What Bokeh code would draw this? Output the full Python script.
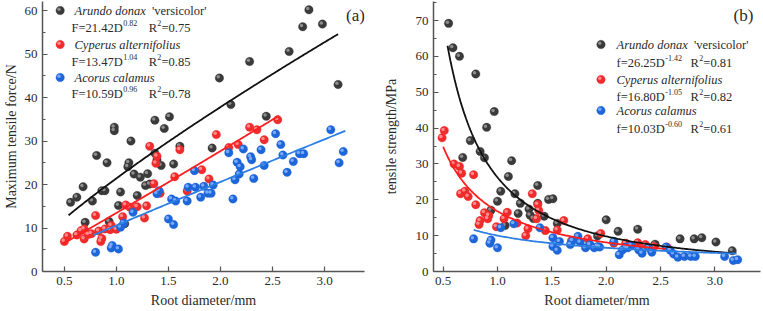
import numpy as np
from bokeh.plotting import figure
from bokeh.layouts import row
from bokeh.models import Label, Range1d, SingleIntervalTicker, NumeralTickFormatter
from bokeh.embed import file_html
from bokeh.resources import INLINE

SERIF = "Liberation Serif"

# ---------------- data ----------------
species = ["Arundo donax", "Cyperus alternifolius", "Acorus calamus"]
cultivar = ["'versicolor'", "", ""]

# (a) maximum tensile force (N) vs root diameter (mm)
force_arundo_d = [0.56, 0.62, 0.68, 0.70, 0.77, 0.81, 0.86, 0.89, 0.91, 0.93, 0.98, 0.98, 1.02, 1.04,
                  1.08, 1.11, 1.12, 1.14, 1.17, 1.20, 1.23, 1.28, 1.30, 1.32, 1.37, 1.37, 1.39, 1.43,
                  1.46, 1.51, 1.55, 1.61, 1.92, 1.99, 2.10, 2.28, 2.44, 2.66, 2.79, 2.85, 2.98, 3.13]
force_arundo_f = [15.9, 17.1, 19.5, 11.3, 16.2, 26.7, 18.6, 18.6, 25.0, 11.5, 33.2, 32.4, 15.2, 18.3,
                  11.0, 24.1, 25.0, 30.0, 22.4, 17.5, 21.7, 19.8, 22.5, 20.1, 34.8, 27.2, 25.7, 24.4,
                  32.9, 35.6, 24.7, 28.8, 28.4, 44.5, 38.4, 48.3, 35.7, 50.6, 56.3, 60.2, 56.9, 43.0]

force_cyperus_d = [0.50, 0.53, 0.62, 0.66, 0.69, 0.69, 0.73, 0.76, 0.80, 0.83, 0.85, 0.86, 0.89, 0.94,
                   0.95, 1.00, 1.06, 1.09, 1.13, 1.20, 1.27, 1.29, 1.32, 1.36, 1.38, 1.39, 1.42, 1.56,
                   1.61, 1.68, 1.82, 1.89, 1.96, 2.08, 2.17, 2.28, 2.35, 2.42, 2.55]
force_cyperus_f = [6.9, 8.1, 8.4, 9.4, 9.8, 7.5, 8.5, 8.7, 12.9, 9.3, 6.9, 7.6, 9.8, 9.6,
                   10.6, 9.7, 12.6, 15.3, 14.8, 14.9, 12.3, 15.1, 28.8, 20.2, 24.9, 26.5, 18.0, 21.8,
                   28.0, 18.5, 23.4, 21.3, 31.5, 28.5, 29.2, 33.2, 32.6, 30.3, 34.9]

force_acorus_d = [0.80, 0.95, 0.96, 1.02, 1.04, 1.07, 1.16, 1.39, 1.41, 1.50, 1.53, 1.55, 1.57, 1.68,
                  1.69, 1.75, 1.76, 1.81, 1.84, 1.88, 1.91, 1.93, 2.08, 2.12, 2.14, 2.16, 2.18, 2.19,
                  2.22, 2.29, 2.30, 2.32, 2.39, 2.42, 2.53, 2.58, 2.60, 2.64, 2.70, 2.76, 2.80, 3.06,
                  3.14, 3.18]
force_acorus_f = [4.4, 5.4, 6.0, 5.2, 10.2, 11.1, 13.6, 17.9, 18.6, 12.1, 16.7, 10.8, 16.2, 16.2,
                  19.4, 23.2, 19.4, 17.1, 19.6, 18.0, 18.0, 19.9, 27.3, 16.7, 21.1, 25.1, 22.4, 24.1,
                  28.2, 26.4, 25.7, 21.4, 28.0, 24.4, 31.7, 29.2, 26.8, 22.8, 25.3, 27.1, 27.1, 32.6,
                  25.0, 27.6]

# (b) tensile strength (MPa) vs root diameter (mm)
strength_arundo_d = [0.55, 0.59, 0.65, 0.80, 0.97, 0.90, 0.75, 0.84, 0.68, 0.88, 1.13, 1.10, 1.03,
                     1.00, 0.94, 1.07, 1.16, 1.19, 1.21, 1.29, 1.30, 1.33, 1.37, 1.37, 1.43, 1.47,
                     1.51, 1.55, 1.92, 2.00, 2.11, 2.29, 2.45, 2.68, 2.81, 2.88, 3.01, 3.16]
strength_arundo_f = [69.2, 62.4, 60.0, 55.1, 44.6, 40.2, 36.5, 33.5, 31.8, 31.7, 30.9, 26.5, 22.4,
                     19.6, 17.1, 12.8, 21.7, 16.2, 19.0, 17.4, 15.7, 14.8, 24.0, 19.0, 15.4, 20.1,
                     20.3, 13.4, 9.9, 14.4, 11.2, 11.8, 7.6, 9.1, 9.1, 9.4, 8.2, 5.8]

strength_cyperus_d = [0.49, 0.51, 0.60, 0.65, 0.67, 0.78, 0.66, 0.70, 0.73, 0.80, 0.88, 0.84, 0.83,
                      0.92, 0.91, 0.99, 1.06, 1.09, 1.18, 1.26, 1.28, 1.32, 1.36, 1.37, 1.38, 1.44,
                      1.55, 1.61, 1.68, 1.83, 1.95, 2.07, 2.18, 2.29, 2.36, 2.44, 2.56]
strength_cyperus_f = [37.3, 39.3, 30.0, 29.3, 27.4, 27.0, 21.7, 22.4, 20.9, 18.6, 16.4, 14.2, 13.1,
                      15.6, 14.7, 12.5, 14.7, 16.5, 13.5, 10.0, 11.9, 21.7, 14.7, 18.7, 17.0, 11.4,
                      11.6, 14.2, 8.6, 9.1, 10.6, 7.9, 7.9, 8.0, 7.5, 7.0, 6.8]

strength_acorus_d = [0.78, 0.93, 0.94, 1.00, 1.03, 1.15, 1.39, 1.51, 1.51, 1.55, 1.57, 1.67, 1.69,
                     1.74, 1.76, 1.81, 1.85, 1.89, 1.92, 1.94, 2.07, 2.12, 2.15, 2.18, 2.20, 2.23,
                     2.30, 2.33, 2.39, 2.42, 2.55, 2.59, 2.62, 2.66, 2.72, 2.78, 2.82, 3.09, 3.17, 3.21]
strength_acorus_f = [9.1, 7.9, 8.8, 6.6, 12.2, 13.3, 12.2, 9.4, 7.0, 5.9, 8.4, 7.5, 8.6,
                     9.8, 8.2, 6.6, 7.5, 6.6, 7.0, 6.8, 8.4, 4.7, 6.0, 6.8, 6.6, 7.2,
                     6.0, 5.1, 6.6, 5.4, 6.8, 5.9, 4.9, 4.0, 4.2, 4.2, 4.2, 4.2, 3.1, 3.3]

# power-law fits  y = a * D^b
force_coef = [21.42, 13.47, 10.59]
force_exp = [0.82, 1.04, 0.96]
force_r2 = [0.75, 0.85, 0.78]
force_fit_span = [(0.54, 3.13), (0.49, 2.56), (0.78, 3.20)]

strength_coef = [26.25, 16.80, 10.03]
strength_exp = [-1.42, -1.05, -0.60]
strength_r2 = [0.81, 0.82, 0.61]
strength_fit_span = [(0.54, 3.16), (0.50, 2.55), (0.78, 3.20)]

# ---------------- styling ----------------
ball_colors = ["#3a3a3a", "#ef2b2b", "#1d66da"]
shine_colors = ["#9c9c9c", "#ff9c9c", "#8ab6ff"]
fit_colors = ["#111111", "#ff1e1e", "#2e7fe4"]
AXIS_COLOR = "#555555"
TEXT_COLOR = "#2a2a2a"
FRAME_W, FRAME_H = 328, 270

# Times-metric advance widths (per em) for placing legend pieces side by side
REG_W = {" ": 0.25, "'": 0.18, ".": 0.25, "-": 0.333, "=": 0.564, "D": 0.722, "F": 0.556,
         "R": 0.667, "f": 0.333}
ITAL_W = {" ": 0.25, "A": 0.611, "C": 0.667, "a": 0.5, "c": 0.444, "d": 0.5, "e": 0.444,
          "f": 0.278, "i": 0.278, "l": 0.278, "m": 0.722, "n": 0.5, "o": 0.5, "p": 0.5,
          "r": 0.389, "s": 0.389, "t": 0.278, "u": 0.5, "x": 0.444, "y": 0.444}


def text_width(s, size, table):
    return sum(table.get(ch, 0.5) for ch in s) * size


def make_panel(width, border_left, border_right, xr, yr, ylabel, ylabel_standoff):
    p = figure(width=width, height=311, x_range=Range1d(*xr), y_range=Range1d(*yr),
               output_backend="svg", toolbar_location=None,
               min_border_left=border_left, min_border_right=border_right,
               min_border_top=1, min_border_bottom=40)
    p.outline_line_color = None
    p.grid.grid_line_color = None
    p.xaxis.ticker = SingleIntervalTicker(interval=0.5, num_minor_ticks=0)
    p.yaxis.ticker = SingleIntervalTicker(interval=10, num_minor_ticks=2)
    p.xaxis.formatter = NumeralTickFormatter(format="0.0")
    p.xaxis.axis_label = "Root diameter/mm"
    p.yaxis.axis_label = ylabel
    for ax in (p.xaxis, p.yaxis):
        ax.axis_line_color = AXIS_COLOR
        ax.axis_line_width = 1.5
        ax.major_tick_line_color = AXIS_COLOR
        ax.minor_tick_line_color = AXIS_COLOR
        ax.major_tick_line_width = 1.2
        ax.minor_tick_line_width = 1.0
        ax.major_tick_in = 5
        ax.major_tick_out = 0
        ax.minor_tick_in = 3
        ax.minor_tick_out = 0
        ax.major_label_text_font = SERIF
        ax.major_label_text_font_size = "13px"
        ax.major_label_text_color = TEXT_COLOR
        ax.major_label_standoff = 5
        ax.axis_label_text_font = SERIF
        ax.axis_label_text_font_size = "14px"
        ax.axis_label_text_font_style = "normal"
        ax.axis_label_text_color = TEXT_COLOR
    p.xaxis.axis_label_standoff = 5
    p.yaxis.axis_label_standoff = ylabel_standoff
    return p


def draw_balls(p, xs, ys, i, xr, yr):
    # shaded sphere look: a body plus a small light spot toward the upper left
    px_x = FRAME_W / (xr[1] - xr[0])
    px_y = FRAME_H / (yr[1] - yr[0])
    xs = np.asarray(xs)
    ys = np.asarray(ys)
    p.scatter(xs, ys, size=8.5, fill_color=ball_colors[i], line_color=ball_colors[i],
              line_alpha=0.6, line_width=0.5)
    p.scatter(xs - 1.2 / px_x, ys + 1.2 / px_y, size=3.5, fill_color=shine_colors[i],
              line_color=None, fill_alpha=0.85)


def draw_fit(p, a, b, span, i):
    d = np.linspace(span[0], span[1], 200)
    p.line(d, a * d ** b, line_color=fit_colors[i], line_width=1.8)


def add_text(p, xr, yr, dx, dy, s, size, style="normal", align="left", color=TEXT_COLOR):
    p.add_layout(Label(x=xr[0], y=yr[1], x_offset=dx, y_offset=-dy, text=s,
                       text_font=SERIF, text_font_size=f"{size}px", text_font_style=style,
                       text_color=color, text_align=align, text_baseline="middle"))


def add_legend(p, xr, yr, mx, tx, rows, sym, coefs, exps, r2s, fx, r_gap):
    px_x = FRAME_W / (xr[1] - xr[0])
    px_y = FRAME_H / (yr[1] - yr[0])
    size, sup = 12.5, 8
    for i, (my, fy) in enumerate(rows):
        draw_balls(p, [xr[0] + mx / px_x], [yr[1] - my / px_y], i, xr, yr)
        add_text(p, xr, yr, tx, my, species[i], size, style="italic")
        if cultivar[i]:
            w = text_width(species[i] + "  ", size, ITAL_W)
            add_text(p, xr, yr, tx + w, my, cultivar[i], size)
        main = f"{sym}={coefs[i]:.2f}D"
        add_text(p, xr, yr, fx, fy, main, size)
        x = fx + text_width(main, size, REG_W)
        exp_s = f"{exps[i]:.2f}"
        add_text(p, xr, yr, x + 0.5, fy - 5, exp_s, sup)
        x += text_width(exp_s, sup, REG_W) + r_gap
        add_text(p, xr, yr, x, fy, "R", size)
        x += text_width("R", size, REG_W)
        add_text(p, xr, yr, x + 0.3, fy - 5, "2", sup)
        x += text_width("2", sup, REG_W) + 0.5
        add_text(p, xr, yr, x, fy, f"={r2s[i]:.2f}", size)


# ---------------- (a) force ----------------
xr_a, yr_a = (0.29, 3.384), (0.0, 62.1)
pa = make_panel(380, 36, 16, xr_a, yr_a, "Maximum tensile force/N", 3)
force_sets = [(force_arundo_d, force_arundo_f), (force_cyperus_d, force_cyperus_f),
              (force_acorus_d, force_acorus_f)]
for i, (d, f) in enumerate(force_sets):
    draw_balls(pa, d, f, i, xr_a, yr_a)
for i in range(3):
    draw_fit(pa, force_coef[i], force_exp[i], force_fit_span[i], i)
add_legend(pa, xr_a, yr_a, 18, 32, [(9, 26), (43, 60), (76, 92)], "F",
           force_coef, force_exp, force_r2, 29, 12)
add_text(pa, xr_a, yr_a, 313, 14, "(a)", 17, align="center")

# ---------------- (b) strength ----------------
xr_b, yr_b = (0.411, 3.42), (0.0, 75.3)
pb = make_panel(383, 52, 3, xr_b, yr_b, "tensile strength/MPa", 14)
strength_sets = [(strength_arundo_d, strength_arundo_f), (strength_cyperus_d, strength_cyperus_f),
                 (strength_acorus_d, strength_acorus_f)]
for i, (d, f) in enumerate(strength_sets):
    draw_balls(pb, d, f, i, xr_b, yr_b)
for i in range(3):
    draw_fit(pb, strength_coef[i], strength_exp[i], strength_fit_span[i], i)
add_legend(pb, xr_b, yr_b, 168, 183, [(43, 61), (78, 95), (109, 127)], "f",
           strength_coef, strength_exp, strength_r2, 183, 9)
add_text(pb, xr_b, yr_b, 310, 14, "(b)", 17, align="center")

layout = row(pa, pb)
open("out.html", "w").write(file_html(layout, INLINE))
